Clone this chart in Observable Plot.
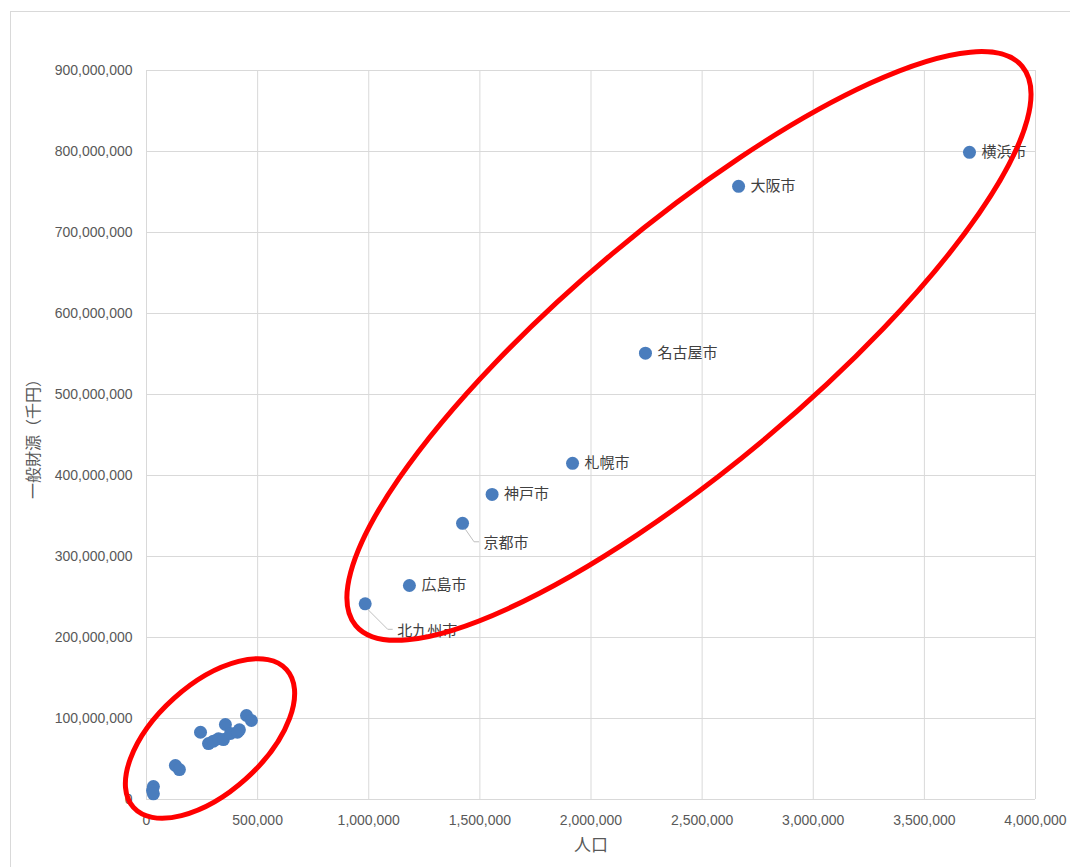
<!DOCTYPE html>
<html><head><meta charset="utf-8">
<script src="https://cdn.jsdelivr.net/npm/d3@7"></script>
<script src="https://cdn.jsdelivr.net/npm/@observablehq/plot@0.6"></script>
<style>
body{margin:0;background:#fff;}
#wrap{position:relative;width:1070px;height:867px;overflow:hidden;background:#fff;}
#chart{position:absolute;left:0;top:0;}
#frame{position:absolute;left:10px;top:11px;width:1100px;height:900px;border:1px solid #d9d9d9;box-sizing:border-box;pointer-events:none;}
</style></head><body>
<div id="wrap"><div id="chart"></div><div id="frame"></div></div>
<script>
// Labelled cities
const cityNames = ["横浜市", "大阪市", "名古屋市", "札幌市", "神戸市", "京都市", "広島市", "北九州市"];
const cityPopulation = [3703000, 2664000, 2245000, 1917000, 1555000, 1422000, 1183000, 984000];
const cityRevenue = [799000000, 757000000, 551000000, 415000000, 376600000, 341000000, 264200000, 241600000];
// Unlabelled smaller cities
const otherPopulation = [31000, 27000, 31000, 130000, 148000, 243000, 279000, 301000, 324000, 346000, 355000, 378000, 409000, 418000, 450000, 472000];
const otherRevenue = [16000000, 11000000, 7000000, 42000000, 37000000, 83000000, 69000000, 72000000, 75000000, 74000000, 92600000, 81500000, 83000000, 86000000, 103700000, 97500000];
// Axes
const xTicks = [0, 500000, 1000000, 1500000, 2000000, 2500000, 3000000, 3500000, 4000000];
const yTicks = [0, 100000000, 200000000, 300000000, 400000000, 500000000, 600000000, 700000000, 800000000, 900000000];
const xTitle = "人口";
const yTitle = "一般財源（千円）";
// Labels drawn with a leader line: [dx, dy] in px
const leaderLabels = {"京都市": [21, 20], "北九州市": [32, 27]};
// Hand-drawn red ellipses (center in data units, radii in px, angle in degrees)
const ellipses = [
  {cx: 2443000, cy: 559300000, rx: 435, ry: 120, angle: -40},
  {cx: 288000, cy: 74700000, rx: 103, ry: 54, angle: -42}
];

const cities = cityNames.map((name, i) => ({name, pop: cityPopulation[i], rev: cityRevenue[i]}));
const others = otherPopulation.map((pop, i) => ({pop, rev: otherRevenue[i]}));
const fmt = d3.format(",");
const labelFont = "'Noto Sans CJK JP', 'Noto Sans', sans-serif";
const BLUE = "#4a7dbd";

function leaderMark(index, scales) {
  const g = d3.create("svg:g");
  for (const c of cities) {
    const off = leaderLabels[c.name];
    if (!off) continue;
    const px = scales.x(c.pop), py = scales.y(c.rev);
    const [dx, dy] = off;
    g.append("path")
      .attr("d", `M${px + 3},${py + 6}L${px + dx - 9},${py + dy - 1}L${px + dx - 4},${py + dy - 1}`)
      .attr("fill", "none").attr("stroke", "#bfbfbf").attr("stroke-width", 1);
  }
  return g.node();
}

function ellipseMark(index, scales) {
  const g = d3.create("svg:g");
  for (const e of ellipses) {
    g.append("ellipse")
      .attr("cx", 0).attr("cy", 0).attr("rx", e.rx).attr("ry", e.ry)
      .attr("transform", `translate(${scales.x(e.cx)},${scales.y(e.cy)}) rotate(${e.angle})`)
      .attr("fill", "none").attr("stroke", "#ff0000").attr("stroke-width", 5);
  }
  return g.node();
}

const normal = cities.filter(c => !leaderLabels[c.name]);
const textMarks = [
  Plot.text(normal, {x: "pop", y: "rev", text: "name", dx: 12, textAnchor: "start", fontSize: 15, fill: "#404040", fontFamily: labelFont})
];
for (const [name, [dx, dy]] of Object.entries(leaderLabels)) {
  textMarks.push(Plot.text(cities.filter(c => c.name === name), {x: "pop", y: "rev", text: "name", dx, dy, textAnchor: "start", fontSize: 15, fill: "#404040", fontFamily: labelFont}));
}

const chart = Plot.plot({
  width: 1070,
  height: 867,
  marginLeft: 146,
  marginRight: 35,
  marginTop: 70,
  marginBottom: 68,
  style: {background: "transparent", fontFamily: "'Liberation Sans', Arial, sans-serif"},
  x: {domain: [0, 4000000]},
  y: {domain: [0, 900000000]},
  marks: [
    Plot.gridX(xTicks, {stroke: "#d9d9d9", strokeOpacity: 1}),
    Plot.gridY(yTicks, {stroke: "#d9d9d9", strokeOpacity: 1}),
    Plot.axisX(xTicks, {tickSize: 0, tickPadding: 16, tickFormat: fmt, fontSize: 14, color: "#595959", label: null}),
    Plot.axisY(yTicks, {tickSize: 0, tickPadding: 14, tickFormat: fmt, fontSize: 14, color: "#595959", label: null}),
    Plot.dot(others, {x: "pop", y: "rev", r: 6.5, fill: BLUE}),
    Plot.dot(cities, {x: "pop", y: "rev", r: 6.5, fill: BLUE}),
    ...textMarks,
    leaderMark,
    Plot.text([xTitle], {text: d => d, frameAnchor: "bottom", dy: 46, lineAnchor: "middle", textAnchor: "middle", fontSize: 17, fill: "#595959", fontFamily: labelFont}),
    Plot.text([yTitle], {text: d => d, frameAnchor: "left", dx: -113, rotate: -90, lineAnchor: "middle", textAnchor: "middle", fontSize: 16, fill: "#595959", fontFamily: labelFont}),
    ellipseMark
  ]
});
document.getElementById("chart").appendChild(chart);
</script>
</body></html>
